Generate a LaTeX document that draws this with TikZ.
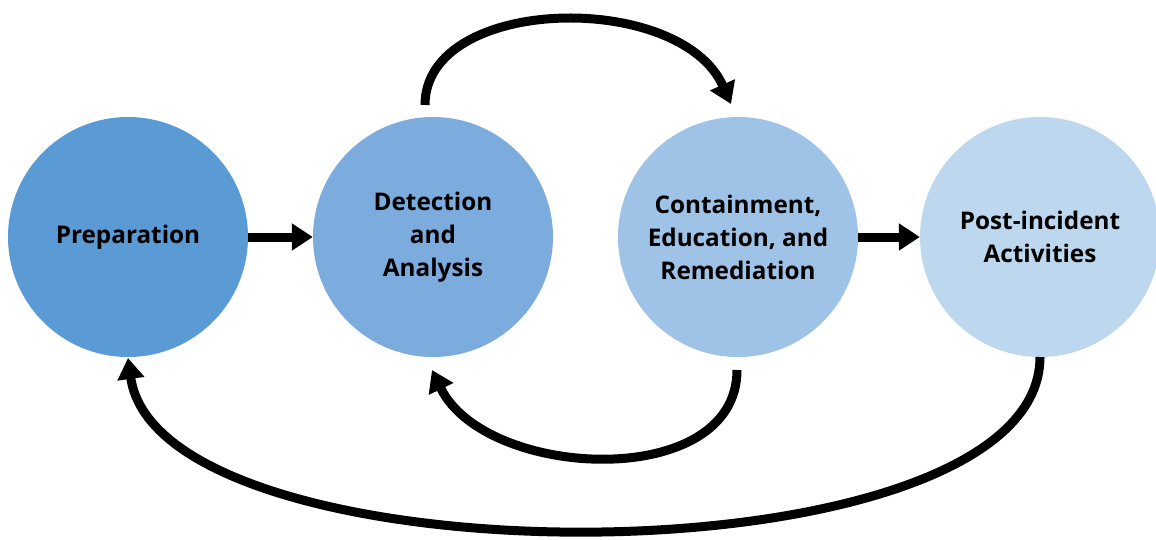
\documentclass[tikz,border=0pt]{standalone}
\usepackage{fontspec}
\setmainfont{Open Sans}
\usetikzlibrary{arrows.meta,calc}
\definecolor{c1}{HTML}{5B9BD5}
\definecolor{c2}{HTML}{7CABDD}
\definecolor{c3}{HTML}{9EC3E6}
\definecolor{c4}{HTML}{BDD7EE}
\begin{document}
\begin{tikzpicture}[x=1pt,y=-1pt,
  phase/.style={circle,minimum size=240pt,inner sep=0pt,align=center,
    font=\fontsize{24.3}{33}\selectfont\bfseries},
  flow/.style={line width=9pt,-{Triangle[length=21pt,width=26pt]}}]
\useasboundingbox (0,0) rectangle (1156,539);
\clip (0,0) rectangle (1156,539);
\node[phase,fill=c1] (prep) at (128,237) {Preparation};
\node[phase,fill=c2] (det) at (433,237) {Detection\\and\\Analysis};
\node[phase,fill=c3] (con) at (738,237) {Containment,\\Education, and\\Remediation};
\node[phase,fill=c4] (post) at (1040,237) {Post-incident\\Activities};
\draw[flow] (prep.east) -- (det.west);
\draw[flow] (con.east) -- (post.west);
\draw[flow] ($(det.center)+(-8,-132)$) .. controls (425,-5) and (680,-10) .. ($(con.center)+(-7,-133)$);
\draw[flow] ($(con.center)+(-1,133)$) .. controls (737,492) and (485,480) .. ($(det.center)+(-1,133)$);
\draw[flow] ($(post.center)+(0,120)$) .. controls (1040,587) and (160,587) .. ($(prep.center)+(0,121)$);
\end{tikzpicture}
\end{document}
